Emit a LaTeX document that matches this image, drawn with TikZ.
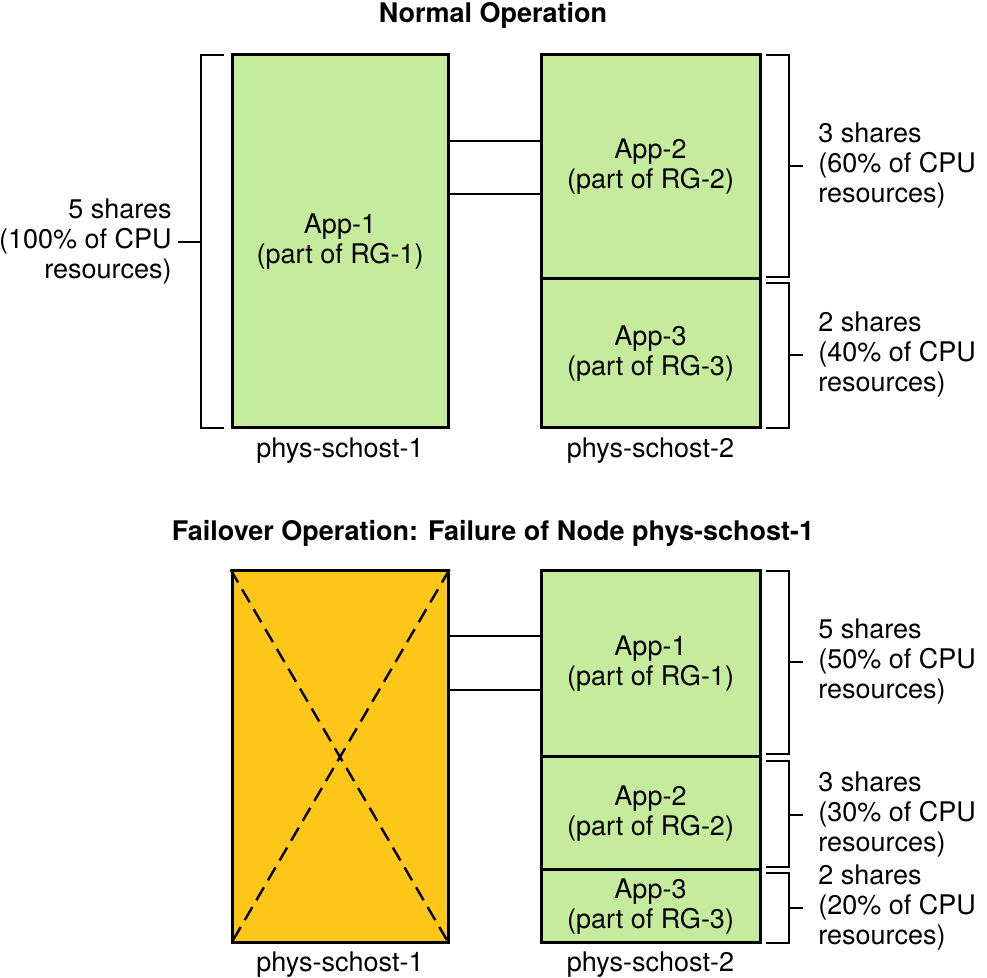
\documentclass[tikz,border=0pt]{standalone}
\usepackage{fontspec}
\setmainfont{TeX Gyre Heros}
\usetikzlibrary{positioning}
\definecolor{appgreen}{RGB}{197, 236, 157}
\definecolor{failorange}{RGB}{253, 198, 24}

\tikzset{
    appbox/.style={draw, line width=1.5pt, fill=appgreen, align=center, inner sep=0pt},
    failbox/.style={draw, line width=1.5pt, fill=failorange, inner sep=0pt},
    hostlabel/.style={inner sep=0pt},
    sharelabel/.style={align=left, anchor=west, inner sep=0pt},
    bracket/.style={line width=1pt},
    link/.style={line width=1pt},
    crossline/.style={line width=1.2pt, dash pattern=on 7.5pt off 4pt}
}

\begin{document}
\begin{tikzpicture}[x=0.5pt, y=-0.5pt, font=\fontsize{13.5}{15}\selectfont]
    \useasboundingbox (0,0) rectangle (987,978);

    % Normal operation
    \node[font=\fontsize{13.5}{15}\selectfont\bfseries] (title1) at (493,15) {Normal Operation};

    \node[appbox, minimum width=108pt, minimum height=186.5pt] (napp1) at (340,241.5) {App-1\\(part of RG-1)};
    \node[appbox, minimum width=109.5pt, minimum height=112pt] (napp2) at (650.5,167) {App-2\\(part of RG-2)};
    \node[appbox, minimum width=109.5pt, minimum height=74.5pt] (napp3) at (650.5,353.5) {App-3\\(part of RG-3)};

    \draw[link] (napp1.east |- 0,141) -- (napp2.west |- 0,141);
    \draw[link] (napp1.east |- 0,194) -- (napp2.west |- 0,194);

    \node[hostlabel] (nhost1) at (340,451) {phys-schost-1};
    \node[hostlabel] (nhost2) at (650.5,451) {phys-schost-2};

    % brackets
    \draw[bracket] (224,55) -- (201,55) -- (201,428) -- (224,428);
    \node[align=right, anchor=east, inner sep=0pt] (nshare1) at (172,242) {5 shares\\(100\% of CPU\\resources)};
    \draw[bracket] (nshare1.east) ++(6,0) -- (201,242);

    \draw[bracket] (766,55) -- (789,55) -- (789,277) -- (766,277);
    \draw[bracket] (789,166) -- (803,166);
    \node[sharelabel] (nshare2) at (818,166) {3 shares\\(60\% of CPU\\resources)};

    \draw[bracket] (766,283) -- (789,283) -- (789,428) -- (766,428);
    \draw[bracket] (789,355) -- (803,355);
    \node[sharelabel] (nshare3) at (818,355) {2 shares\\(40\% of CPU\\resources)};

    % Failover operation
    \node[font=\fontsize{13.5}{15}\selectfont\bfseries] (title2) at (493,533) {Failover Operation: Failure of Node phys-schost-1};

    \node[failbox, minimum width=108pt, minimum height=186pt] (fhost) at (340,757) {};
    \draw[crossline] (fhost.north west) -- (fhost.south east);
    \draw[crossline] (fhost.north east) -- (fhost.south west);

    \node[appbox, minimum width=109.5pt, minimum height=93pt] (fapp1) at (650.5,664) {App-1\\(part of RG-1)};
    \node[appbox, minimum width=109.5pt, minimum height=56.5pt] (fapp2) at (650.5,813.5) {App-2\\(part of RG-2)};
    \node[appbox, minimum width=109.5pt, minimum height=36.5pt] (fapp3) at (650.5,906.5) {App-3\\(part of RG-3)};

    \draw[link] (fhost.east |- 0,636) -- (fapp1.west |- 0,636);
    \draw[link] (fhost.east |- 0,690) -- (fapp1.west |- 0,690);

    \node[hostlabel] (fhost1) at (340,965) {phys-schost-1};
    \node[hostlabel] (fhost2) at (650.5,965) {phys-schost-2};

    \draw[bracket] (766,571) -- (789,571) -- (789,754) -- (766,754);
    \draw[bracket] (789,662) -- (803,662);
    \node[sharelabel] (fshare1) at (818,662) {5 shares\\(50\% of CPU\\resources)};

    \draw[bracket] (766,761) -- (789,761) -- (789,867) -- (766,867);
    \draw[bracket] (789,815) -- (803,815);
    \node[sharelabel] (fshare2) at (818,815) {3 shares\\(30\% of CPU\\resources)};

    \draw[bracket] (766,873) -- (789,873) -- (789,943) -- (766,943);
    \draw[bracket] (789,908) -- (803,908);
    \node[sharelabel] (fshare3) at (818,908) {2 shares\\(20\% of CPU\\resources)};
\end{tikzpicture}
\end{document}
